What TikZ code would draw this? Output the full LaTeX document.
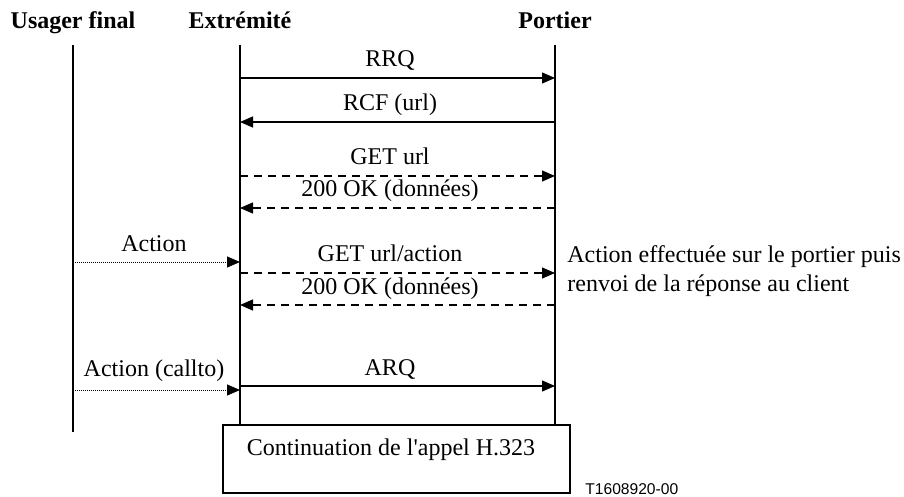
\documentclass[tikz,border=0pt]{standalone}
\usepackage{fontspec}
\setmainfont{Liberation Serif}
\newfontfamily\figsans{Liberation Sans}
\usetikzlibrary{arrows.meta}

\tikzset{
  lifeline/.style={line width=0.6pt},
  msg/.style={line width=0.6pt, -{Triangle[length=6.5pt,width=5.5pt]}},
  reply/.style={msg, dash pattern=on 4pt off 3pt},
  user/.style={msg, line width=0.45pt, dash pattern=on 0.45pt off 0.55pt},
  lbl/.style={font=\fontsize{12}{14}\selectfont, inner sep=0pt, anchor=base},
  head/.style={lbl, font=\fontsize{12}{14}\selectfont\bfseries},
}

\begin{document}
\begin{tikzpicture}[x=0.5pt,y=-0.5pt]
  \useasboundingbox (0,0) rectangle (904,497);
  % participants
  \node[head] (usager) at (73,29) {Usager final};
  \node[head] (extr) at (240,29) {Extrémité};
  \node[head] (portier) at (555,29) {Portier};
  \coordinate (u0) at (73,45);  \coordinate (u1) at (73,432);
  \coordinate (e0) at (240,45); \coordinate (e1) at (240,425);
  \coordinate (p0) at (555,45); \coordinate (p1) at (555,425);
  \foreach \a/\b in {u0/u1, e0/e1, p0/p1}
    \draw[lifeline] (\a) -- (\b);
  % messages: y / from / to / style / label x / label
  \foreach \y/\f/\t/\s/\lx/\txt in {78/e/p/msg/390/RRQ, 122/p/e/msg/390/{RCF (url)},
      176/e/p/reply/390/{GET url}, 208/p/e/reply/390/{200 OK (données)},
      262/u/e/user/154/Action, 273/e/p/reply/390/{GET url/action},
      305/p/e/reply/390/{200 OK (données)}, 386/e/p/msg/390/ARQ}{
    \draw[\s] (\f0 |- 0,\y) -- (\t0 |- 0,\y);
    \node[lbl] at (\lx,\y-11) {\txt};
  }
  \draw[user] (u0 |- 0,390) -- (e0 |- 0,390);
  \node[lbl] (callto) at (154,376) {Action (callto)};
  % note at the gatekeeper
  \node[lbl, anchor=base west] (note1) at (567,263) {Action effectuée sur le portier puis};
  \node[lbl, anchor=base west] (note2) at (567,291) {renvoi de la réponse au client};
  % continuation box
  \draw[lifeline] (223,425) rectangle (570,493);
  \node[lbl] (cont) at (391,455) {Continuation de l\textquotesingle appel H.323};
  \node[inner sep=0pt, anchor=base west, font=\figsans\fontsize{7.8}{9}\selectfont] (ref) at (585,494) {T1608920-00};
\end{tikzpicture}
\end{document}
